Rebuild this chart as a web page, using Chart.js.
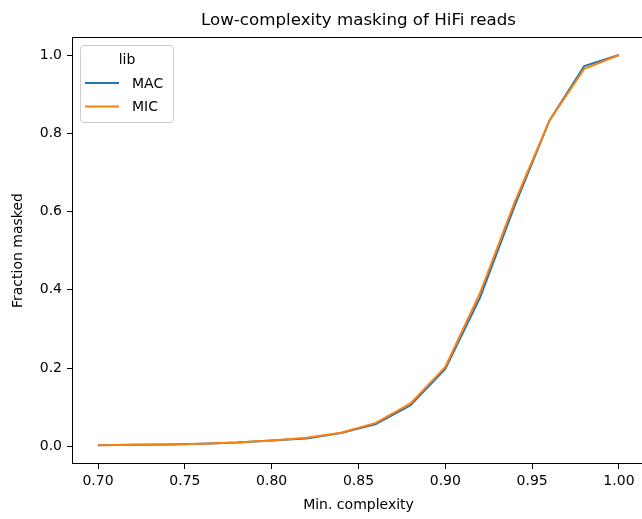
<!DOCTYPE html>
<html>
<head>
<meta charset="utf-8">
<script src="https://cdn.jsdelivr.net/npm/chart.js@4"></script>
<style>
  html, body { margin: 0; background: #fff; overflow: hidden; }
  canvas { display: block; }
</style>
</head>
<body>
<canvas id="chart" width="648" height="519"></canvas>
<script>
// Datos del gráfico
const complexity = [0.70, 0.72, 0.74, 0.76, 0.78, 0.80, 0.82, 0.84, 0.86, 0.88, 0.90, 0.92, 0.94, 0.96, 0.98, 1.00];
const macValues = [0.003, 0.004, 0.005, 0.007, 0.010, 0.015, 0.020, 0.034, 0.057, 0.105, 0.198, 0.380, 0.615, 0.833, 0.972, 1.000];
const micValues = [0.003, 0.004, 0.005, 0.007, 0.010, 0.015, 0.022, 0.035, 0.060, 0.110, 0.203, 0.392, 0.625, 0.833, 0.965, 1.000];
const xTicks = [0.70, 0.75, 0.80, 0.85, 0.90, 0.95, 1.00];
const yTicks = [0.0, 0.2, 0.4, 0.6, 0.8, 1.0];
const seriesLabels = ['MAC', 'MIC'];
const legendTitle = 'lib';

const FONT = 'DejaVu Sans, sans-serif';
Chart.defaults.font.family = FONT;
Chart.defaults.color = '#000';

// Marco completo alrededor del área del gráfico (estilo matplotlib)
const framePlugin = {
    id: 'frame',
    afterDraw(chart) {
        const { ctx, chartArea: a } = chart;
        ctx.save();
        ctx.strokeStyle = '#000';
        ctx.lineWidth = 1;
        ctx.strokeRect(Math.round(a.left) + 0.5, Math.round(a.top) + 0.5,
            Math.round(a.right - a.left) - 1, Math.round(a.bottom - a.top) - 1);
        ctx.restore();
    }
};

// Leyenda dentro del área, con título
const innerLegend = {
    id: 'innerLegend',
    afterDraw(chart) {
        const { ctx } = chart;
        ctx.save();
        ctx.beginPath();
        ctx.roundRect(80.5, 45.5, 93, 77, 3);
        ctx.fillStyle = 'rgba(255,255,255,0.8)';
        ctx.fill();
        ctx.strokeStyle = '#cccccc';
        ctx.lineWidth = 1;
        ctx.stroke();

        ctx.font = '14px ' + FONT;
        ctx.fillStyle = '#000';
        ctx.textAlign = 'center';
        ctx.textBaseline = 'alphabetic';
        ctx.fillText(legendTitle, 127, 64);

        chart.data.datasets.forEach((ds, i) => {
            const y = 83 + i * 23.5;
            ctx.beginPath();
            ctx.moveTo(85, y);
            ctx.lineTo(119, y);
            ctx.strokeStyle = ds.borderColor;
            ctx.lineWidth = 2;
            ctx.stroke();
            ctx.fillStyle = '#000';
            ctx.textAlign = 'left';
            ctx.textBaseline = 'middle';
            ctx.fillText(ds.label, 132, y + 1);
        });
        ctx.restore();
    }
};

new Chart(document.getElementById('chart'), {
    type: 'line',
    data: {
        labels: complexity,
        datasets: [{
            label: seriesLabels[0],
            data: complexity.map((x, i) => ({ x: x, y: macValues[i] })),
            borderColor: '#1f77b4',
            borderWidth: 2,
            pointRadius: 0,
            tension: 0,
            order: 1
        }, {
            label: seriesLabels[1],
            data: complexity.map((x, i) => ({ x: x, y: micValues[i] })),
            borderColor: '#ff7f0e',
            borderWidth: 2,
            pointRadius: 0,
            tension: 0,
            order: 0
        }]
    },
    options: {
        responsive: false,
        animation: false,
        layout: { padding: { left: 0, right: 3, top: 0, bottom: 0 } },
        plugins: {
            legend: { display: false },
            tooltip: { enabled: false },
            title: {
                display: true,
                text: 'Low-complexity masking of HiFi reads',
                fullSize: false,
                color: '#000',
                font: { size: 16.7, weight: 'normal' },
                padding: { top: 11, bottom: 6 }
            }
        },
        scales: {
            x: {
                type: 'linear',
                min: 0.685,
                max: 1.015,
                afterBuildTicks: s => { s.ticks = xTicks.map(v => ({ value: v })); },
                afterFit: s => { s.height = 55; },
                ticks: {
                    callback: v => v.toFixed(2),
                    font: { size: 14 },
                    padding: 4,
                    maxRotation: 0
                },
                grid: { drawOnChartArea: false, tickLength: 5, color: '#000' },
                border: { display: false },
                title: {
                    display: true,
                    text: 'Min. complexity',
                    font: { size: 14 },
                    padding: { top: 0, bottom: 5 }
                }
            },
            y: {
                min: -0.045,
                max: 1.046,
                afterBuildTicks: s => { s.ticks = yTicks.map(v => ({ value: v })); },
                afterFit: s => { s.width = 72; },
                ticks: {
                    callback: v => v.toFixed(1),
                    font: { size: 14 },
                    padding: 5
                },
                grid: { drawOnChartArea: false, tickLength: 5, color: '#000' },
                border: { display: false },
                title: {
                    display: true,
                    text: 'Fraction masked',
                    font: { size: 14 },
                    padding: { top: 10, bottom: 0 }
                }
            }
        }
    },
    plugins: [framePlugin, innerLegend]
});
</script>
</body>
</html>
